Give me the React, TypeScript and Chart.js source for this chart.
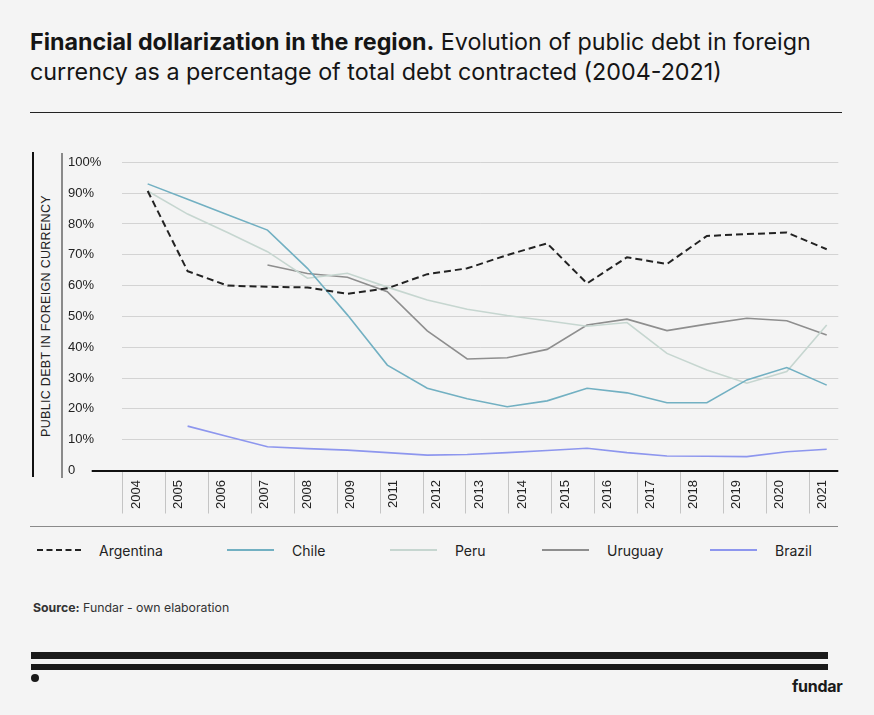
import React, { useEffect, useRef } from "react";
import { Chart, registerables } from "chart.js";

Chart.register(...registerables);

// ---- data ----
const years = [2004, 2005, 2006, 2007, 2008, 2009, 2010, 2011, 2012, 2013, 2014, 2015, 2016, 2017, 2018, 2019, 2020, 2021];
const xLabels = ["2004", "2005", "2006", "2007", "2008", "2009", "2011", "2012", "2013", "2014", "2015", "2016", "2017", "2018", "2019", "2020", "2021"];
const yTicks = [0, 10, 20, 30, 40, 50, 60, 70, 80, 90, 100];

const seriesNames = ["Argentina", "Chile", "Peru", "Uruguay", "Brazil"];
const argentina = [90.7, 64.7, 60.0, 59.6, 59.4, 57.3, 59.1, 63.7, 65.6, 69.9, 73.7, 60.7, 69.2, 67.0, 76.1, 76.7, 77.2, 71.8];
const chile = [93.0, 88.0, 83.0, 78.0, 65.6, 50.5, 34.2, 26.7, 23.3, 20.7, 22.6, 26.7, 25.2, 22.0, 22.0, 29.4, 33.4, 27.7];
const peru = [90.7, 83.2, 77.2, 71.0, 62.4, 64.0, 59.5, 55.3, 52.3, 50.3, 48.6, 46.8, 48.0, 38.0, 32.6, 28.3, 32.1, 47.2];
const uruguay = [null, null, null, 66.7, 63.9, 62.7, 58.0, 45.3, 36.2, 36.6, 39.3, 47.2, 49.1, 45.4, 47.5, 49.4, 48.6, 44.0];
const brazil = [null, 14.4, 11.0, 7.7, 7.1, 6.6, 5.8, 5.0, 5.2, 5.8, 6.5, 7.2, 5.8, 4.7, 4.6, 4.5, 6.1, 6.9];

const seriesValues = [argentina, chile, peru, uruguay, brazil];

// ---- styles ----
const colors = ["#222222", "#72b0c2", "#c6d6d0", "#8e8e8e", "#8d96ee"];
const dashes: number[][] = [[7, 4], [], [], [], []];
const widths = [2, 1.6, 1.6, 1.6, 1.6];
const legendLeft = [37, 227, 390, 542, 710];
const BG = "#f4f4f4";
const AXIS_FONT = "'Liberation Sans', Arial, sans-serif";
const UI_FONT = "Inter, 'Noto Sans', sans-serif";

function LineChart() {
  const ref = useRef<HTMLCanvasElement | null>(null);
  useEffect(() => {
    if (!ref.current) return;
    const chart = new Chart(ref.current, {
      type: "line",
      data: {
        datasets: seriesNames.map((name, k) => ({
          label: name,
          data: years.map((yr, i) => ({ x: yr, y: seriesValues[k][i] })),
          borderColor: colors[k],
          backgroundColor: colors[k],
          borderWidth: widths[k],
          borderDash: dashes[k],
          pointRadius: 0,
          tension: 0,
          fill: false,
          xAxisID: "x",
          yAxisID: "y",
        })),
      },
      options: {
        animation: false,
        responsive: true,
        maintainAspectRatio: false,
        layout: { padding: { left: 6, top: 22.3, right: 13.7, bottom: 0 } },
        plugins: { legend: { display: false }, tooltip: { enabled: false } },
        scales: {
          x: {
            type: "linear",
            display: false,
            min: 2003.35,
            max: 2021.29,
          },
          xl: {
            type: "linear",
            position: "bottom",
            min: -0.023,
            max: 16.68,
            afterBuildTicks: (s: any) => {
              s.ticks = xLabels.map((_, i) => ({ value: i }));
            },
            afterFit: (s: any) => {
              s.height = 64.5;
            },
            border: { display: false },
            grid: {
              drawOnChartArea: false,
              drawTicks: true,
              tickLength: 43,
              tickColor: "#c4c4c4",
              tickWidth: 1,
            },
            ticks: {
              autoSkip: false,
              minRotation: 90,
              maxRotation: 90,
              labelOffset: 13.3,
              padding: -33.5,
              color: "#222",
              font: { family: AXIS_FONT, size: 13 },
              callback: (_v: any, i: number) => xLabels[i],
            },
          },
          y: {
            min: 0,
            max: 100,
            afterBuildTicks: (s: any) => {
              s.ticks = yTicks.map((v) => ({ value: v }));
            },
            afterFit: (s: any) => {
              s.width = 53.7;
            },
            border: { display: false },
            grid: {
              color: (c: any) => (c.tick && c.tick.value === 0 ? "#111" : "#d3d3d3"),
              lineWidth: (c: any) => (c.tick && c.tick.value === 0 ? 2 : 1),
              drawTicks: true,
              tickLength: 30,
              tickColor: (c: any) => (c.tick && c.tick.value === 0 ? "#111" : "rgba(0,0,0,0)"),
              tickWidth: 2,
            },
            ticks: {
              crossAlign: "far",
              color: "#222",
              font: { family: AXIS_FONT, size: 13 },
              callback: (v: any) => (v === 0 ? "0" : v + "%"),
            },
          },
        },
      },
    } as any);
    return () => chart.destroy();
  }, []);
  return (
    <div style={{ position: "absolute", left: 62, top: 140, width: 790, height: 395 }}>
      <canvas ref={ref} />
    </div>
  );
}

export default function App() {
  return (
    <div style={{ position: "fixed", left: 0, top: 0, width: 874, height: 715, background: BG, overflow: "hidden", fontFamily: UI_FONT, color: "#111" }}>
      <div style={{ position: "absolute", left: 30, top: 27, width: 822, fontSize: 23.3, lineHeight: "30px", color: "#151515" }}>
        <span style={{ fontWeight: 700 }}>Financial dollarization in the region.</span> Evolution of public debt in foreign currency as a percentage of total debt contracted (2004-2021)
      </div>
      <div style={{ position: "absolute", left: 30, top: 112, width: 812, height: 1, background: "#222" }} />

      <div style={{ position: "absolute", left: 32, top: 152, width: 1.5, height: 325, background: "#111" }} />
      <div style={{ position: "absolute", left: 60.5, top: 153, width: 2.5, height: 325, background: "#8a8a8a" }} />
      <div style={{ position: "absolute", left: 46, top: 316, transform: "translate(-50%, -50%) rotate(-90deg)", whiteSpace: "nowrap", fontFamily: AXIS_FONT, fontSize: 12.5, letterSpacing: 0.3, color: "#222" }}>
        PUBLIC DEBT IN FOREIGN CURRENCY
      </div>

      <LineChart />

      <div style={{ position: "absolute", left: 30, top: 526, width: 808, height: 1, background: "#8a8a8a" }} />

      {seriesNames.map((name, k) => (
        <div key={name} style={{ position: "absolute", left: legendLeft[k], top: 540, height: 20, display: "flex", alignItems: "center", fontSize: 14, color: "#222" }}>
          <svg width={47} height={4} style={{ display: "block" }}>
            <line x1={0} y1={2} x2={47} y2={2} stroke={colors[k]} strokeWidth={2} strokeDasharray={dashes[k].length ? "6,3.5" : undefined} />
          </svg>
          <span style={{ marginLeft: k === 0 ? 15 : 18 }}>{name}</span>
        </div>
      ))}

      <div style={{ position: "absolute", left: 33, top: 600, fontSize: 12.3, color: "#333" }}>
        <span style={{ fontWeight: 700 }}>Source:</span> Fundar - own elaboration
      </div>

      <div style={{ position: "absolute", left: 31, top: 652, width: 797, height: 6.5, background: "#1a1a1a" }} />
      <div style={{ position: "absolute", left: 31, top: 663.5, width: 797, height: 6.5, background: "#1a1a1a" }} />
      <div style={{ position: "absolute", left: 31.3, top: 674.3, width: 8, height: 8, borderRadius: 4, background: "#1a1a1a" }} />
      <div style={{ position: "absolute", left: 792, top: 676, fontSize: 16, fontWeight: 700, letterSpacing: -0.3, color: "#1a1a1a" }}>fundar</div>
    </div>
  );
}
